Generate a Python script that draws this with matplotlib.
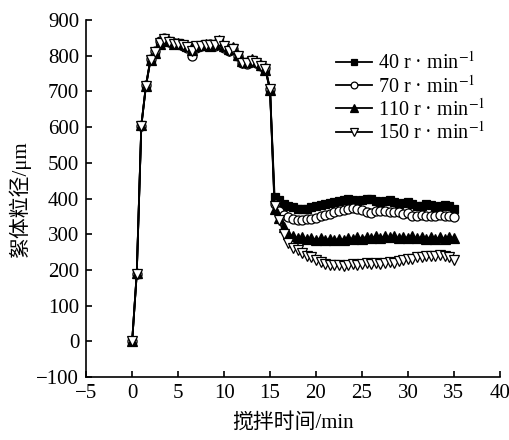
import matplotlib
matplotlib.use("Agg")
import matplotlib.pyplot as plt

plt.rcParams['font.family'] = ['Liberation Serif', 'Noto Sans CJK SC', 'DejaVu Sans']
plt.rcParams['mathtext.fontset'] = 'stix'

# time (min)
time = [0, 0.5, 1, 1.5, 2, 2.5, 3, 3.5, 4, 4.5, 5, 5.5, 6, 6.5, 7, 7.5, 8, 8.5, 9, 9.5,
        10, 10.5, 11, 11.5, 12, 12.5, 13, 13.5, 14, 14.5, 15,
        15.5, 16, 16.5, 17, 17.5, 18, 18.5, 19, 19.5, 20, 20.5, 21, 21.5, 22, 22.5,
        23, 23.5, 24, 24.5, 25, 25.5, 26, 26.5, 27, 27.5, 28, 28.5, 29, 29.5, 30,
        30.5, 31, 31.5, 32, 32.5, 33, 33.5, 34, 34.5, 35]

s40 = [0, 190, 605, 715, 790, 810, 835, 848, 840, 835, 835, 830, 828, 818, 825, 828, 832, 830, 830, 842,
       825, 815, 822, 800, 782, 780, 788, 782, 772, 762, 705,
       405, 395, 385, 380, 375, 372, 370, 372, 375, 380, 383, 385, 388, 390, 392,
       395, 398, 395, 392, 395, 400, 398, 392, 390, 392, 395, 390, 385, 388, 390,
       385, 378, 380, 385, 382, 375, 378, 382, 378, 372]
s70 = [0, 188, 603, 718, 792, 812, 840, 850, 838, 836, 832, 828, 822, 800, 822, 826, 830, 832, 828, 836,
       822, 812, 818, 798, 780, 778, 785, 780, 770, 765, 708,
       385, 365, 355, 348, 343, 340, 340, 342, 342, 345, 350, 355, 358, 362, 365,
       368, 372, 374, 372, 368, 362, 360, 365, 366, 365, 363, 362, 362, 358, 360,
       352, 350, 355, 352, 350, 352, 355, 350, 352, 348]
s110 = [0, 192, 607, 716, 788, 808, 832, 845, 842, 833, 836, 832, 826, 816, 828, 830, 834, 828, 832, 845,
        828, 818, 825, 802, 784, 782, 790, 784, 774, 760, 703,
        370, 345, 320, 300, 295, 290, 293, 287, 290, 285, 289, 284, 287, 283, 288,
        285, 290, 287, 292, 288, 293, 289, 294, 290, 295, 291, 294, 289, 293, 290,
        294, 289, 292, 288, 292, 287, 291, 288, 292, 290]
s150 = [0, 189, 604, 714, 789, 811, 836, 846, 839, 834, 834, 829, 824, 812, 826, 827, 831, 829, 829, 840,
        826, 814, 820, 799, 781, 779, 786, 781, 771, 763, 706,
        380, 340, 300, 275, 262, 255, 248, 240, 235, 228, 222, 218, 215, 213, 215,
        212, 215, 218, 215, 218, 220, 218, 220, 218, 220, 222, 220, 225, 228, 230,
        232, 235, 235, 238, 240, 240, 242, 240, 235, 228]

labels = [r'40 r · min$^{-1}$', r'70 r · min$^{-1}$', r'110 r · min$^{-1}$', r'150 r · min$^{-1}$']
xticks = [-5, 0, 5, 10, 15, 20, 25, 30, 35, 40]
yticks = [-100, 0, 100, 200, 300, 400, 500, 600, 700, 800, 900]

fig = plt.figure(figsize=(5.1, 4.4), dpi=100)
ax = fig.add_axes([0.169, 0.143, 0.811, 0.8115])

styles = [dict(marker='s', mfc='black', ms=6),
          dict(marker='o', mfc='white', ms=6.5),
          dict(marker='^', mfc='black', ms=7),
          dict(marker='v', mfc='white', ms=7)]
for ys, lab, st in zip([s40, s70, s110, s150], labels, styles):
    ax.plot(time, ys, color='black', lw=1.3, mec='black', mew=0.9, label=lab, **st)

ax.set_xlim(-5, 40)
ax.set_ylim(-100, 900)
ax.set_xticks(xticks)
ax.set_yticks(yticks)
for s in ['top', 'right']:
    ax.spines[s].set_visible(False)
for s in ['left', 'bottom']:
    ax.spines[s].set_linewidth(1.2)
ax.tick_params(direction='in', length=4, width=1.2, labelsize=15, pad=5)

ax.set_xlabel('搅拌时间/min', fontsize=15, labelpad=7)
ax.set_ylabel('絮体粒径/μm', fontsize=15, labelpad=4)

leg = ax.legend(loc='upper left', bbox_to_anchor=(0.603, 0.911), frameon=False,
                fontsize=14.5, borderpad=0, borderaxespad=0, handlelength=1.8,
                handletextpad=0.3, labelspacing=0.07, markerscale=0.75)

fig.savefig('out.png', dpi=100)
